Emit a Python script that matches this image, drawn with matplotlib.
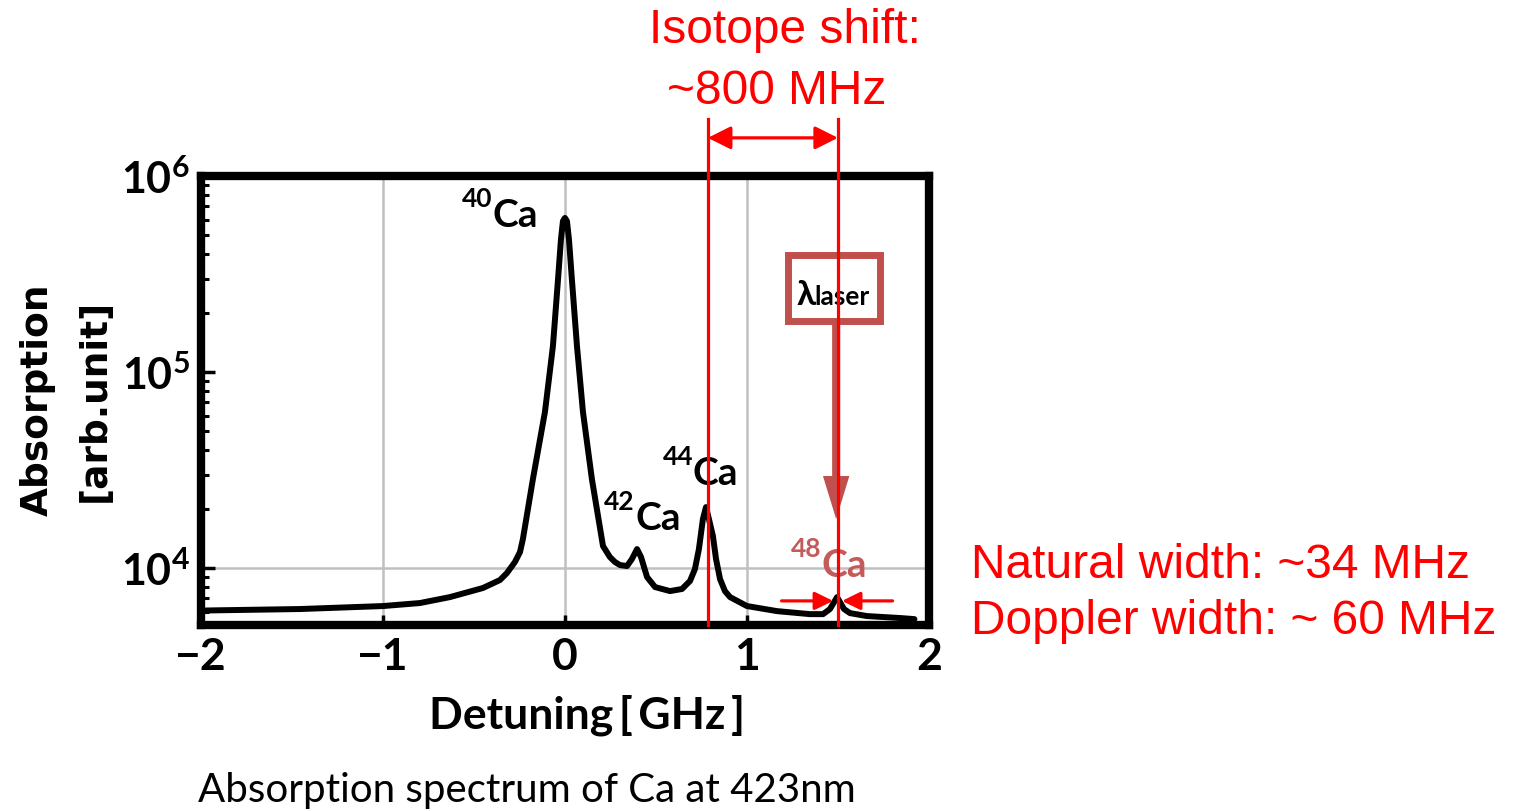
import matplotlib
matplotlib.use("Agg")
import matplotlib.pyplot as plt
from matplotlib.patches import Rectangle

plt.rcParams['mathtext.fontset'] = 'custom'
plt.rcParams['mathtext.rm'] = 'Lato:bold'
plt.rcParams['mathtext.bf'] = 'Lato:bold'

# curve (GHz, arb. unit)
detuning = [-2.0, -1.456, -1.0, -0.797, -0.632, -0.451, -0.357, -0.319, -0.275, -0.247,
            -0.231, -0.176, -0.110, -0.066, -0.038, -0.022, -0.011, 0.0, 0.011, 0.022,
            0.038, 0.066, 0.099, 0.148, 0.209, 0.247, 0.275, 0.302, 0.341, 0.368,
            0.396, 0.418, 0.451, 0.495, 0.577, 0.643, 0.687, 0.714, 0.736, 0.758,
            0.775, 0.791, 0.813, 0.830, 0.852, 0.879, 0.907, 1.0, 1.165, 1.346,
            1.418, 1.456, 1.495, 1.533, 1.566, 1.659, 1.841, 1.92]
absorption = [6070, 6180, 6400, 6630, 7110, 7910, 8690, 9430, 10730, 12070,
              14060, 28450, 62500, 135800, 298000, 475000, 589000, 611000, 589000, 475000,
              298000, 135800, 62500, 28450, 12950, 11380, 10730, 10360, 10240, 11120,
              12500, 11380, 9000, 8000, 7630, 7820, 8590, 9880, 12500, 17790,
              20470, 17790, 14560, 11120, 8790, 7630, 7110, 6400, 6030, 5820,
              5820, 6180, 7110, 6180, 5890, 5690, 5560, 5490]

xticks = [-2, -1, 0, 1, 2]
xtick_labels = ['\u22122', '\u22121', '0', '1', '2']
yticks = [1e4, 1e5, 1e6]
ytick_labels = [r'$\mathbf{10^{4}}$', r'$\mathbf{10^{5}}$', r'$\mathbf{10^{6}}$']
xgrid = [-1, 0, 1]
ygrid = [1e4]

# isotope labels: (mass number, x, y)
isotopes = [('40', -0.40, 640000), ('42', 0.385, 18200), ('44', 0.703, 30900)]
ca48 = ('48', 1.41, 10470)

shift_lines = [0.785, 1.5]      # 44Ca and 48Ca lines
laser_x = 1.49
width_y = 6800
width_left = [1.19, 1.473]
width_right = [1.80, 1.522]

box_col = '#C0504D'

fig = plt.figure(figsize=(15.13, 8.12), dpi=100)
ax = fig.add_axes([0.1328, 0.229, 0.4812, 0.553])

for g in xgrid:
    ax.axvline(g, color='#c0c0c0', lw=1.8, zorder=0)
for g in ygrid:
    ax.axhline(g, color='#c0c0c0', lw=1.8, zorder=0)

ax.plot(detuning, absorption, color='black', lw=4.3, solid_joinstyle='round',
        solid_capstyle='round', zorder=3)

ax.set_yscale('log')
ax.set_xlim(-2, 2)
ax.set_ylim(5120, 1e6)
ax.set_xticks(xticks, xtick_labels, fontfamily='Lato', fontweight='bold', fontsize=32)
ax.set_yticks(yticks, ytick_labels, fontsize=31)
ax.tick_params(axis='both', which='both', direction='in', top=False, right=False)
ax.tick_params(axis='x', length=7, width=2.5, pad=8)
ax.tick_params(axis='y', which='major', length=10, width=2.5, pad=8)
ax.tick_params(axis='y', which='minor', length=6, width=2.2)
for s in ax.spines.values():
    s.set_linewidth(6)

ax.set_xlabel('Detuning\u2009[\u2009GHz\u2009]', fontfamily='Lato',
              fontweight='bold', fontsize=32, va='center')
ax.xaxis.set_label_coords(0.53, -0.198)
ax.set_ylabel('Absorption\n[arb.unit]', fontfamily='DejaVu Sans', fontweight='bold',
              fontsize=27, linespacing=1.75, va='center', ha='center')
ax.yaxis.set_label_coords(-0.185, 0.503)

def iso_label(mass, x, y, color):
    ax.text(x, y, 'Ca', color=color, fontfamily='Lato', fontweight='bold',
            fontsize=28, ha='left', va='center', zorder=5)
    ax.annotate(mass, (x, y), xytext=(0, 3), textcoords='offset points', color=color,
                fontfamily='Lato', fontweight='bold', fontsize=19, ha='right', va='bottom',
                zorder=5)

for m, x, y in isotopes:
    iso_label(m, x, y, 'black')
iso_label(ca48[0], ca48[1], ca48[2], '#C55A5A')

# laser box and arrow
ax.add_patch(Rectangle((0.806, 0.677), 0.127, 0.147, transform=ax.transAxes,
                       fill=False, edgecolor=box_col, lw=5, clip_on=False, zorder=4))
ax.text(0.818, 0.715, '\u03bb', transform=ax.transAxes, family=['Lato', 'Noto Sans'],
        fontweight='bold', fontsize=25, ha='left', va='baseline', zorder=5)
ax.text(0.843, 0.715, 'laser', transform=ax.transAxes, fontfamily='Lato',
        fontweight='bold', fontsize=19, ha='left', va='baseline', zorder=5)
xt = ax.get_xaxis_transform()
ax.annotate('', xy=(laser_x, 0.236), xytext=(laser_x, 0.677), xycoords=xt,
            arrowprops=dict(arrowstyle='simple,tail_width=0.58,head_width=1.9,head_length=3.1',
                            color=box_col, lw=0, shrinkA=0, shrinkB=0), zorder=4)

# isotope shift lines
for x in shift_lines:
    ax.plot([x, x], [0, 1.127], transform=xt, color='red', lw=2.3, clip_on=False, zorder=6)
ax.annotate('', xy=(shift_lines[0], 1.085), xytext=(shift_lines[1], 1.085), xycoords=xt,
            arrowprops=dict(arrowstyle='<|-|>,head_length=0.7,head_width=0.35', color='red',
                            lw=2.3, mutation_scale=20, shrinkA=0, shrinkB=0))

# width arrows at 48Ca
for seg in (width_left, width_right):
    ax.annotate('', xy=(seg[1], width_y), xytext=(seg[0], width_y),
                arrowprops=dict(arrowstyle='-|>,head_length=0.55,head_width=0.27', color='red',
                                lw=2.3, mutation_scale=20, shrinkA=0, shrinkB=0), zorder=6)

red_font = dict(color='red', fontfamily='Liberation Sans', fontsize=34.5)
fig.text(0.519, 0.963, 'Isotope shift:', ha='center', va='center', **red_font)
fig.text(0.5135, 0.887, '~800 MHz', ha='center', va='center', **red_font)
fig.text(0.642, 0.304, 'Natural width: ~34 MHz', ha='left', va='center', **red_font)
fig.text(0.642, 0.234, 'Doppler width: ~ 60 MHz', ha='left', va='center', **red_font)

fig.text(0.348, 0.027, 'Absorption spectrum of Ca at 423nm', fontfamily='Lato',
         fontsize=29, ha='center', va='center')

fig.savefig('out.png', dpi=100)
